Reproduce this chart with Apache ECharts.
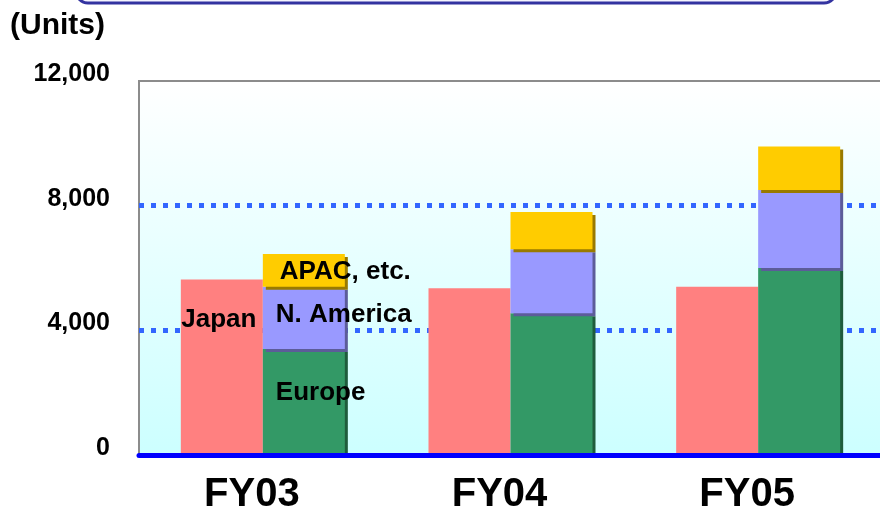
<!DOCTYPE html>
<html>
<head>
<meta charset="utf-8">
<script src="https://cdn.jsdelivr.net/npm/echarts@6/dist/echarts.min.js"></script>
<style>
  html, body { margin: 0; padding: 0; background: #fff; }
  #main { width: 880px; height: 509px; }
</style>
</head>
<body>
<div id="main"></div>
<script>
// 数据
var years = ['FY03', 'FY04', 'FY05'];
var japan = [5630, 5350, 5400];
var europe = [3400, 4550, 6000];
var nAmerica = [2000, 2050, 2500];
var apac = [1050, 1200, 1400];
var yTicks = [0, 4000, 8000, 12000];

var FONT = '"Liberation Sans", Arial, sans-serif';

// 只在FY03上显示系列名称
function firstOnly(name) {
    return function (p) { return p.dataIndex === 0 ? name : ''; };
}

function stackSeries(name, data, color, shadow, labelOpt) {
    return {
        name: name,
        type: 'bar',
        stack: 'overseas',
        barWidth: 82,
        data: data,
        itemStyle: {
            color: color,
            shadowColor: shadow,
            shadowOffsetX: 3,
            shadowOffsetY: 3,
            shadowBlur: 0
        },
        label: Object.assign({
            show: true,
            formatter: firstOnly(name),
            position: 'insideLeft',
            color: '#000',
            fontSize: 26,
            fontWeight: 'bold',
            fontFamily: FONT
        }, labelOpt)
    };
}

var option = {
    animation: false,
    title: {
        text: '(Units)',
        left: 5,
        top: 6,
        textStyle: { fontSize: 30, fontWeight: 'bold', color: '#000', fontFamily: FONT }
    },
    graphic: [{
        type: 'rect',
        shape: { x: 76, y: -40, width: 760, height: 43, r: 12 },
        style: { fill: '#f4f4ff', stroke: '#3333a0', lineWidth: 3 }
    }],
    grid: {
        left: 139,
        right: -2,
        top: 81,
        bottom: 54,
        containLabel: false,
        outerBoundsMode: 'none',
        show: true,
        borderColor: '#8c8c8c',
        borderWidth: 2,
        backgroundColor: {
            type: 'linear', x: 0, y: 0, x2: 0, y2: 1,
            colorStops: [
                { offset: 0, color: '#ffffff' },
                { offset: 1, color: '#ccffff' }
            ]
        }
    },
    xAxis: {
        type: 'category',
        data: years,
        z: 5,
        axisLine: { lineStyle: { color: '#0000ff', width: 5 } },
        axisTick: { show: false },
        axisLabel: {
            color: '#000',
            fontSize: 40,
            fontWeight: 'bold',
            fontFamily: FONT,
            margin: 20,
            padding: [0, 22, 0, 0]
        }
    },
    yAxis: {
        type: 'value',
        min: yTicks[0],
        max: yTicks[yTicks.length - 1],
        interval: 4000,
        axisLine: { show: false },
        axisTick: { show: false },
        axisLabel: {
            color: '#000',
            fontSize: 25,
            fontWeight: 'bold',
            fontFamily: FONT,
            margin: 29,
            verticalAlign: 'bottom',
            lineHeight: 14,
            formatter: function (v) { return v.toLocaleString('en-US'); }
        },
        splitLine: {
            lineStyle: {
                color: ['transparent', '#3366ff', '#3366ff', 'transparent'],
                width: 5,
                type: [5, 7]
            }
        }
    },
    series: [
        {
            name: 'Japan',
            type: 'bar',
            barWidth: 82,
            barGap: '0%',
            data: japan,
            itemStyle: { color: '#ff8080' },
            label: {
                show: true,
                formatter: firstOnly('Japan'),
                position: 'insideTop',
                distance: 27,
                offset: [-3, 0],
                color: '#000',
                fontSize: 26,
                fontWeight: 'bold',
                fontFamily: FONT
            }
        },
        stackSeries('Europe', europe, '#339966', '#1f5c3d', { distance: 13, offset: [0, -9] }),
        stackSeries('N. America', nAmerica, '#9999ff', '#5c5c99', { distance: 13, offset: [0, -3] }),
        stackSeries('APAC, etc.', apac, '#ffcc00', '#997a00', { distance: 17, offset: [0, 1] })
    ]
};

var myechart = echarts.init(document.getElementById('main'));
myechart.setOption(option);
</script>
</body>
</html>
